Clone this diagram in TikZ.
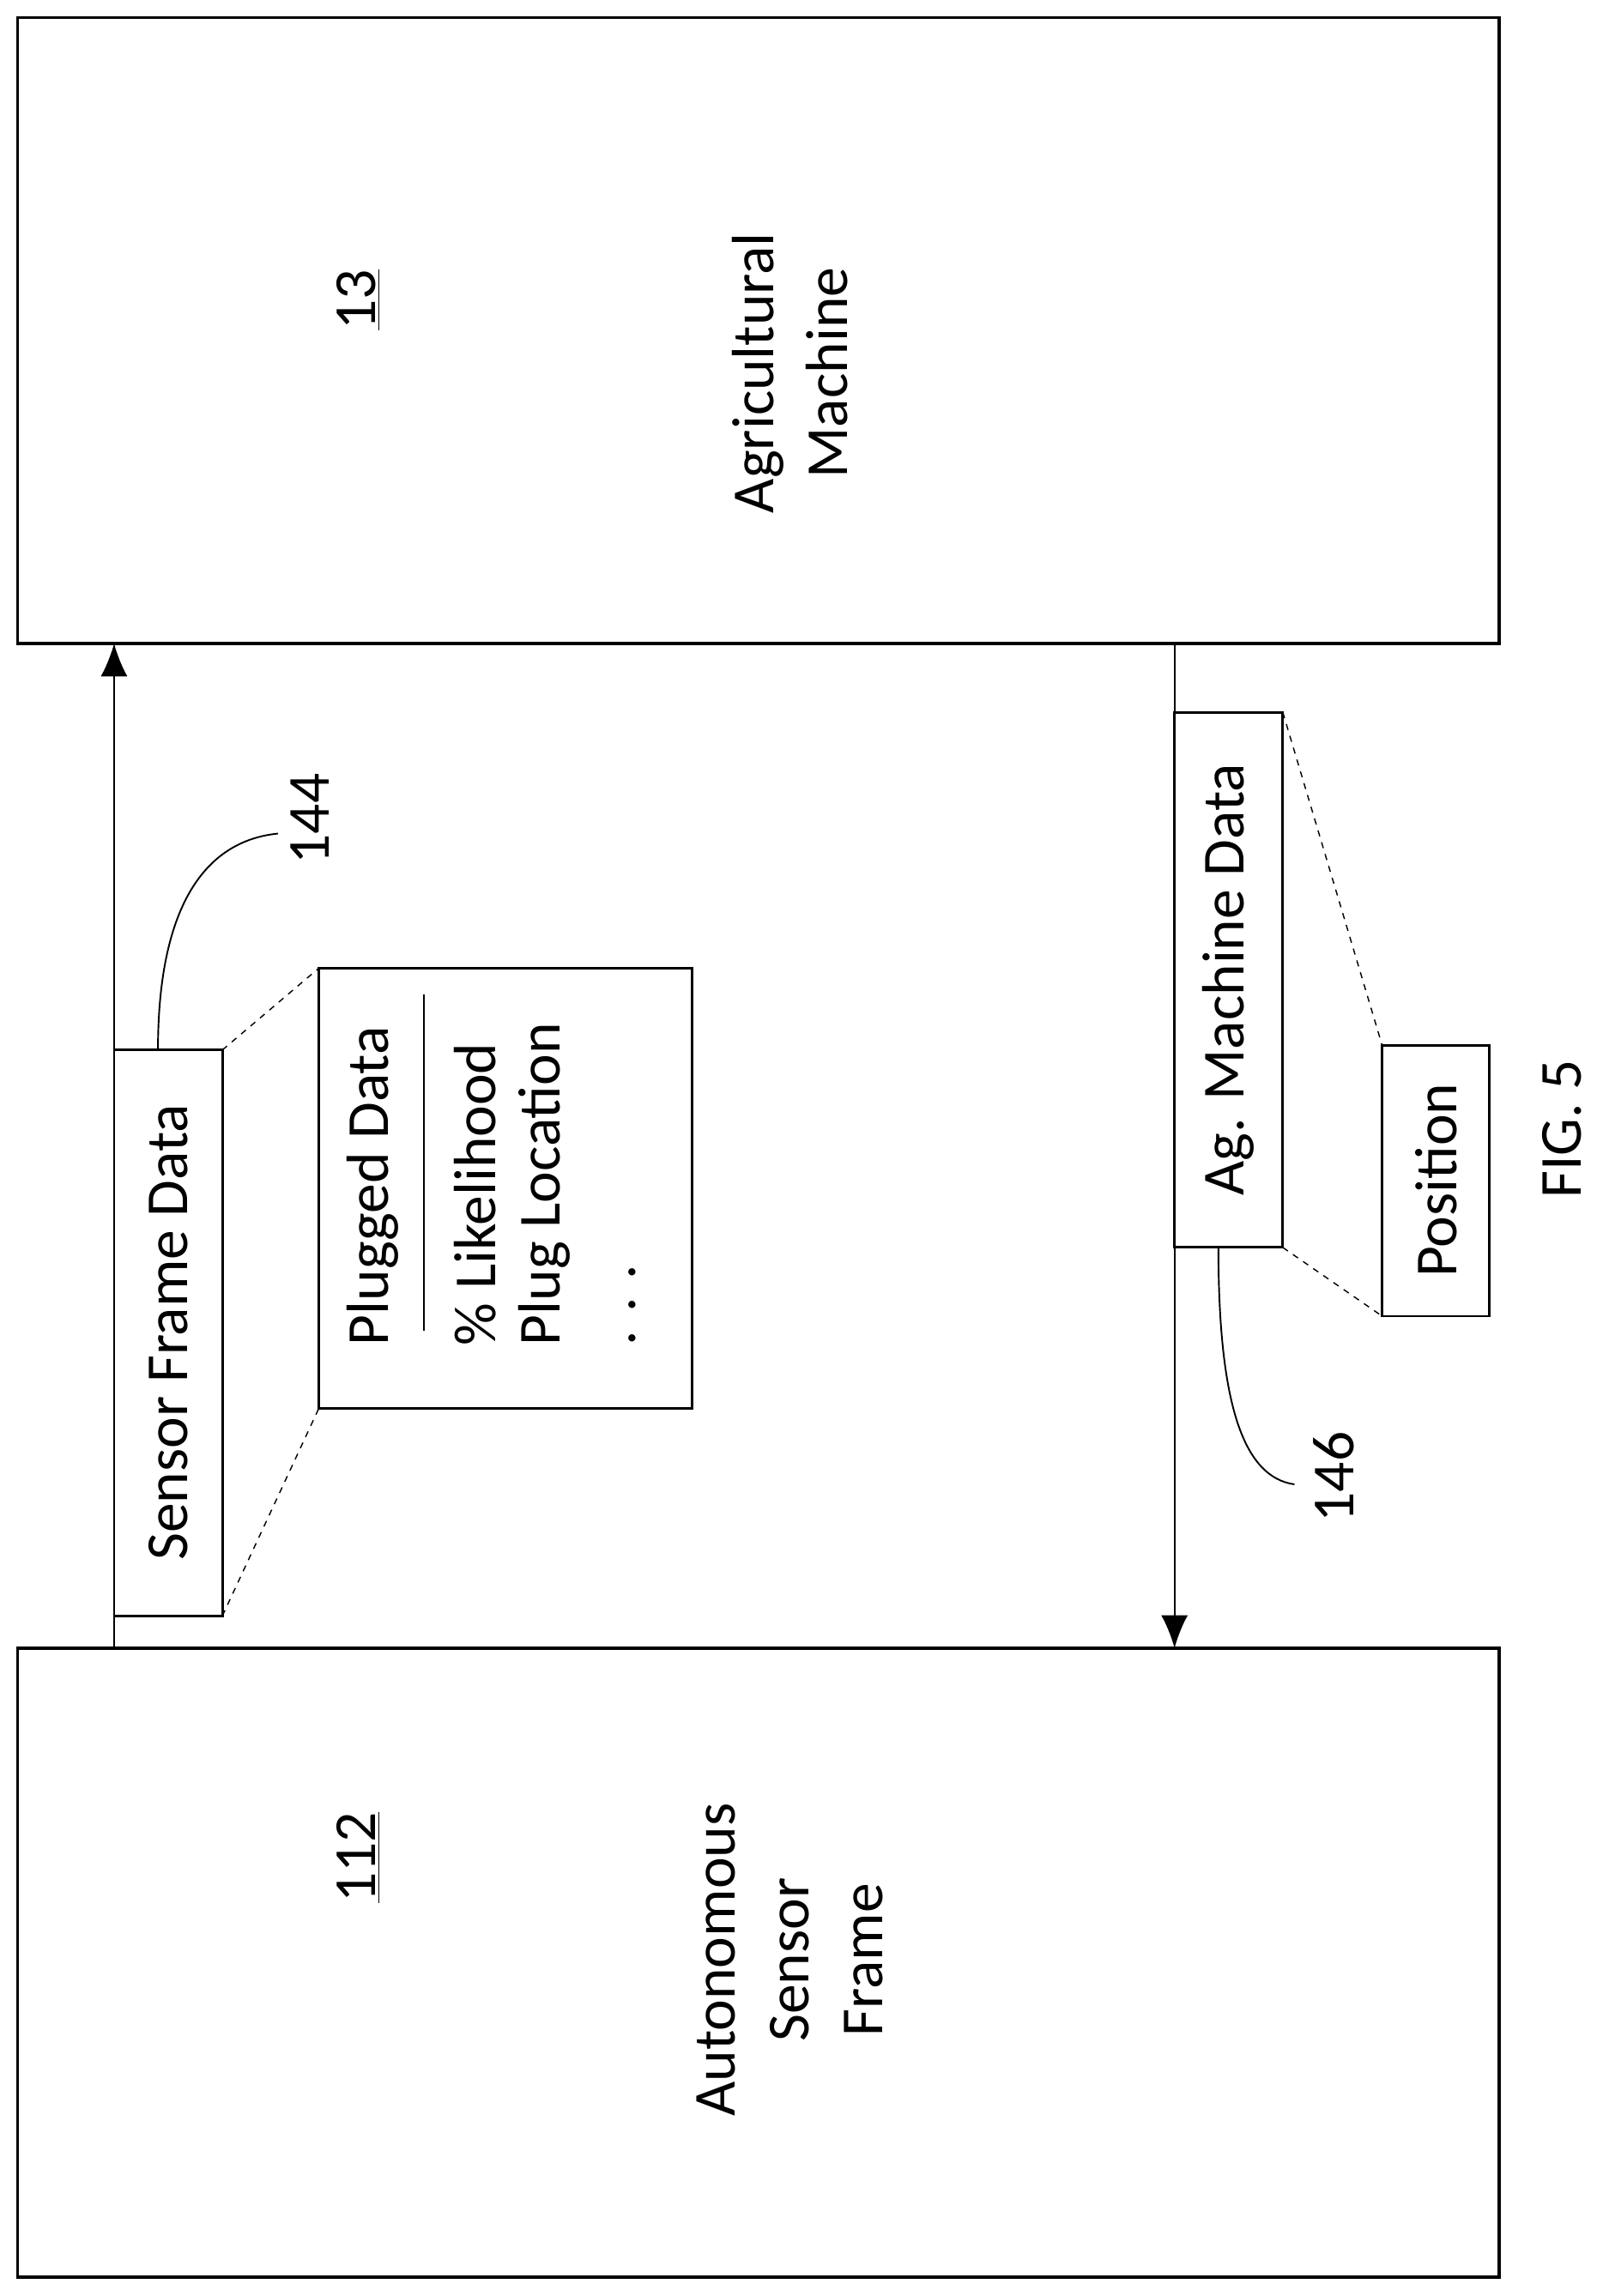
\documentclass[tikz,border=0pt]{standalone}
\usepackage{fontspec}
\setmainfont{Carlito}
\usetikzlibrary{arrows.meta}
\begin{document}
\begin{tikzpicture}[x=0.25mm,y=-0.25mm,
  txt/.style={font=\fontsize{29}{36}\selectfont,rotate=90,align=center},
  dline/.style={dashed,line width=0.6pt},
  conn/.style={line width=0.8pt}]
\useasboundingbox (0,0) rectangle (1100,1570);
\draw[line width=1.4pt] (12,12) rectangle (1025,440);
\draw[line width=1.4pt] (12,1127) rectangle (1025,1557);
\node[txt] (n13) at (245,205) {\underline{13}};
\node[txt] (agm) at (540,255) {Agricultural\\Machine};
\node[txt] (n112) at (245,1270) {\underline{112}};
\node[txt] (asf) at (540,1340) {Autonomous\\Sensor\\Frame};
\coordinate (A1) at (78,1127); \coordinate (A2) at (78,440);
\coordinate (B1) at (803,440); \coordinate (B2) at (803,1127);
\draw[conn,-{Latex[length=16pt,width=13pt]}] (A1) -- (A2);
\draw[conn,-{Latex[length=16pt,width=13pt]}] (B1) -- (B2);
\draw[line width=1.2pt,fill=white] (78,718) rectangle (152,1105);
\node[txt] (sfd) at (115,911) {Sensor Frame Data};
\draw[line width=1.2pt,fill=white] (218,662) rectangle (473,963);
\node[txt,anchor=west] (pd) at (255,925) {Plugged Data};
\draw[line width=0.8pt] (290,680) -- (290,910);
\node[txt,anchor=west] (pl) at (325,925) {\% Likelihood};
\node[txt,anchor=west] (ploc) at (372,925) {Plug Location};
\node[txt,anchor=west] (dots) at (432,925) {. . .};
\draw[dline] (152,718) -- (218,662);
\draw[dline] (152,1105) -- (218,963);
\node[txt] (l144) at (212,560) {144};
\draw[conn] (108,718) .. controls (108,620) and (140,575) .. (190,570);
\draw[line width=1.2pt,fill=white] (803,487) rectangle (877,853);
\node[txt] (amd) at (840,670) {Ag. Machine Data};
\draw[line width=1.2pt] (945,715) rectangle (1018,900);
\node[txt] (pos) at (982,807) {Position};
\draw[dline] (877,487) -- (945,715);
\draw[dline] (877,853) -- (945,900);
\node[txt] (l146) at (912,1010) {146};
\draw[conn] (833,853) .. controls (833,960) and (850,1010) .. (885,1015);
\node[txt] (fig) at (1068,772) {FIG. 5};
\end{tikzpicture}
\end{document}
